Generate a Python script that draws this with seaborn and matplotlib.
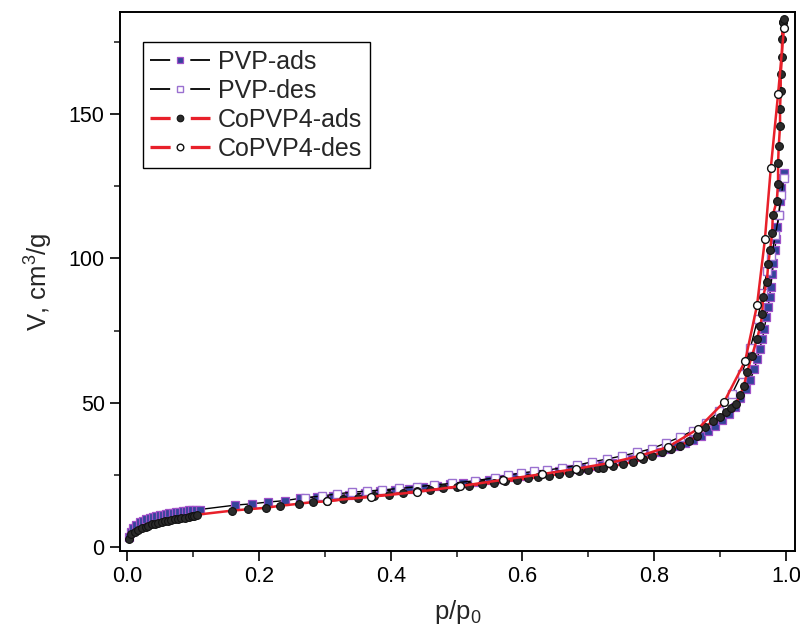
import matplotlib
matplotlib.use("Agg")
import matplotlib.pyplot as plt
import seaborn as sns
import pandas as pd
from matplotlib.ticker import MultipleLocator
from matplotlib.lines import Line2D

# ---------------- data ----------------
pvp_ads_x = [0.002, 0.005, 0.009, 0.014, 0.019, 0.024, 0.029, 0.034, 0.039, 0.044, 0.049,
             0.054, 0.059, 0.064, 0.069, 0.074, 0.079, 0.084, 0.089, 0.094, 0.099, 0.104, 0.110,
             0.163, 0.190, 0.214, 0.240, 0.263, 0.288, 0.313, 0.337, 0.361, 0.384, 0.406, 0.428,
             0.449, 0.470, 0.490, 0.510, 0.530, 0.549, 0.568, 0.586, 0.604, 0.622, 0.639, 0.656,
             0.673, 0.689, 0.705, 0.721, 0.736, 0.751, 0.766, 0.780, 0.794, 0.808, 0.821, 0.834,
             0.847, 0.859, 0.871, 0.882, 0.893, 0.903, 0.913, 0.922, 0.930,
             0.940, 0.946, 0.952, 0.956, 0.960, 0.964, 0.967, 0.970, 0.973, 0.975, 0.977,
             0.979, 0.981, 0.983, 0.985, 0.987, 0.989, 0.991, 0.993, 0.995, 0.997]
pvp_ads_y = [3.5, 5.2, 6.6, 7.6, 8.4, 9.0, 9.5, 9.9, 10.3, 10.6, 10.9,
             11.1, 11.4, 11.6, 11.8, 12.0, 12.2, 12.3, 12.5, 12.6, 12.7, 12.8, 12.9,
             14.4, 14.9, 15.5, 16.0, 16.8, 17.2, 17.6, 18.1, 18.7, 19.2, 19.7, 20.1,
             20.6, 21.1, 21.6, 22.1, 22.6, 23.1, 23.6, 24.1, 24.6, 25.1, 25.7, 26.2,
             26.8, 27.3, 27.9, 28.5, 29.1, 29.8, 30.5, 31.2, 32.0, 32.9, 33.8, 34.8,
             35.9, 37.1, 38.5, 40.0, 41.8, 43.8, 46.0, 48.6, 51.5,
             54.7, 58.0, 61.6, 65.0, 68.5, 72.0, 75.4, 79.6, 83.0, 86.8, 90.0,
             94.5, 98.6, 103.0, 106.6, 111.0, 115.0, 120.0, 124.5, 128.0, 129.5]

pvp_des_x = [0.997, 0.993, 0.989, 0.984, 0.978, 0.971, 0.965, 0.957, 0.946, 0.933, 0.918,
             0.899, 0.879, 0.859, 0.839, 0.818, 0.796, 0.774, 0.751, 0.728, 0.705, 0.683,
             0.660, 0.637, 0.618, 0.598, 0.578, 0.558, 0.528, 0.493, 0.466, 0.440, 0.413,
             0.387, 0.364, 0.341, 0.318, 0.296, 0.270]
pvp_des_y = [128.0, 122.0, 115.0, 108.0, 101.0, 95.5, 88.0, 79.0, 69.0, 60.0, 53.0,
             47.0, 43.0, 40.3, 38.0, 36.0, 34.0, 32.7, 31.5, 30.4, 29.4, 28.3,
             27.3, 26.6, 26.1, 25.6, 24.8, 23.9, 22.9, 22.0, 21.4, 20.8, 20.2,
             19.7, 19.3, 18.9, 18.3, 17.6, 17.0]

co_ads_x = [0.002, 0.006, 0.012, 0.017, 0.023, 0.028, 0.032, 0.037, 0.042, 0.047, 0.052,
            0.057, 0.062, 0.067, 0.072, 0.077, 0.082, 0.087, 0.093, 0.098, 0.102, 0.106,
            0.159, 0.184, 0.211, 0.232, 0.261, 0.282, 0.303, 0.327, 0.351, 0.374, 0.397,
            0.419, 0.440, 0.460, 0.480, 0.500, 0.519, 0.538, 0.556, 0.574, 0.591, 0.608,
            0.624, 0.640, 0.656, 0.671, 0.686, 0.700, 0.714, 0.722, 0.738, 0.753, 0.768,
            0.783, 0.797, 0.812, 0.825, 0.839, 0.853, 0.865, 0.877, 0.889, 0.900, 0.909,
            0.917, 0.924, 0.930, 0.936, 0.941, 0.948, 0.956, 0.961, 0.964, 0.965, 0.971,
            0.973, 0.976, 0.979, 0.980, 0.986, 0.988, 0.988, 0.989, 0.991, 0.991, 0.992,
            0.992, 0.994, 0.994, 0.995, 0.995, 0.997]
co_ads_y = [2.8, 4.3, 5.2, 5.9, 6.6, 7.0, 7.3, 7.7, 8.0, 8.3, 8.5,
            8.8, 9.0, 9.3, 9.5, 9.7, 9.9, 10.1, 10.4, 10.6, 10.8, 11.1,
            12.5, 13.0, 13.5, 14.2, 14.9, 15.5, 15.7, 16.4, 17.0, 17.6, 18.1,
            18.7, 19.2, 19.7, 20.2, 20.7, 21.2, 21.7, 22.2, 22.7, 23.2, 23.7,
            24.2, 24.7, 25.2, 25.7, 26.2, 26.7, 27.2, 27.3, 28.0, 28.7, 29.4,
            30.4, 31.5, 32.9, 34.0, 35.0, 36.7, 38.4, 41.5, 43.6, 45.0, 46.7,
            48.0, 49.5, 52.5, 55.7, 60.5, 66.0, 72.0, 76.5, 80.6, 86.5, 92.0,
            98.0, 103.0, 109.0, 115.0, 120.0, 126.0, 133.0, 139.0, 146.0, 152.0, 158.0,
            164.0, 170.0, 176.0, 182.0, 182.0, 183.0]

co_des_x = [0.997, 0.988, 0.977, 0.968, 0.956, 0.938, 0.906, 0.866, 0.821, 0.778,
            0.731, 0.681, 0.630, 0.570, 0.505, 0.440, 0.370, 0.303]
co_des_y = [180.0, 157.0, 131.5, 106.6, 83.7, 64.4, 50.2, 40.8, 34.6, 31.5,
            29.0, 27.0, 25.2, 23.2, 21.0, 19.0, 17.3, 15.9]

labels = ["PVP-ads", "PVP-des", "CoPVP4-ads", "CoPVP4-des"]
xticks = [0.0, 0.2, 0.4, 0.6, 0.8, 1.0]
xticklabels = ["0.0", "0.2", "0.4", "0.6", "0.8", "1.0"]
yticks = [0, 50, 100, 150]

# ---------------- style ----------------
sns.set_theme(style="ticks")
plt.rcParams["font.family"] = ["Liberation Sans", "DejaVu Sans"]
plt.rcParams["mathtext.fontset"] = "custom"
plt.rcParams["mathtext.rm"] = "Liberation Sans"
plt.rcParams["mathtext.it"] = "Liberation Sans"
plt.rcParams["lines.scale_dashes"] = False

fig = plt.figure(figsize=(8.0, 6.37), dpi=100)
ax = fig.add_axes([0.150, 0.135, 0.844, 0.846])

series = [
    (pvp_ads_x, pvp_ads_y, labels[0], dict(color="black", lw=1.0, marker="s", ms=5.2,
                                           mfc="#34449a", mec="#a050c8", mew=0.9)),
    (pvp_des_x, pvp_des_y, labels[1], dict(color="black", lw=1.0, marker="s", ms=5.2,
                                           mfc="white", mec="#9a70d0", mew=1.0)),
    (co_ads_x, co_ads_y, labels[2], dict(color="#e8202a", lw=1.8, marker="o", ms=5.6,
                                          mfc="#2b2b2b", mec="#111111", mew=0.8)),
    (co_des_x, co_des_y, labels[3], dict(color="#e8202a", lw=1.8, marker="o", ms=5.6,
                                          mfc="white", mec="#111111", mew=1.0)),
]

leg_handles = []
for xs, ys, lab, kw in series:
    df = pd.DataFrame({"x": xs, "y": ys})
    sns.lineplot(data=df, x="x", y="y", ax=ax, sort=False, estimator=None,
                 label=lab, **kw)
    # legend handle: line - gap - marker - gap - line
    leg_handles.append(Line2D([], [], color=kw["color"], lw=kw["lw"] * 1.3,
                              dashes=(14.5, 14.5), marker=kw["marker"],
                              ms=kw["ms"] * 0.85, mfc=kw["mfc"], mec=kw["mec"],
                              mew=kw["mew"]))

ax.set_xlim(-0.011, 1.014)
ax.set_ylim(-1.5, 185.5)
ax.set_xticks(xticks)
ax.set_xticklabels(xticklabels)
ax.set_yticks(yticks)
ax.xaxis.set_minor_locator(MultipleLocator(0.1))
ax.yaxis.set_minor_locator(MultipleLocator(25))
ax.tick_params(axis="both", which="major", direction="out", length=7, width=1.2,
               labelsize=15.5, colors="black", pad=4, top=False, right=False)
ax.tick_params(axis="both", which="minor", direction="out", length=4, width=1.2,
               top=False, right=False)
for sp in ax.spines.values():
    sp.set_visible(True)
    sp.set_linewidth(1.4)
    sp.set_color("black")

ax.set_xlabel("p/p$_0$", fontsize=18.5, labelpad=8)
ax.set_ylabel("V, cm$^3$/g", fontsize=18.5, labelpad=10)

leg = ax.legend(leg_handles, labels, loc="upper left", bbox_to_anchor=(0.034, 0.944),
                fontsize=18, frameon=True, fancybox=False, edgecolor="black",
                framealpha=1, handlelength=2.4, handletextpad=0.3, borderpad=0.3,
                labelspacing=0.2, borderaxespad=0.0)
leg.get_frame().set_linewidth(1.0)

fig.savefig("out.png", dpi=100)
